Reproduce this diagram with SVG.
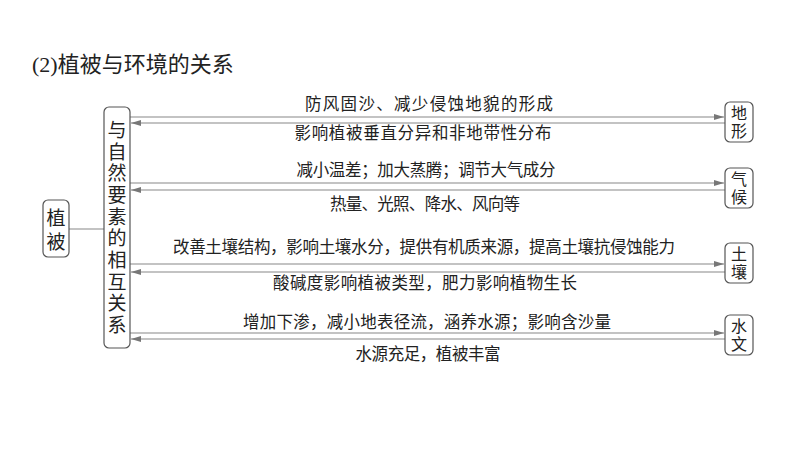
<svg xmlns="http://www.w3.org/2000/svg" width="800" height="450" viewBox="0 0 800 450">
<style>
text{font-family:"Liberation Serif","Noto Sans CJK SC",serif;fill:#222;}
.box{fill:#fff;stroke:#555;stroke-width:1.2;}
.ln{stroke:#888;stroke-width:1.2;fill:none;}
.lab{font-size:16.5px;text-anchor:middle;}
.nd{font-size:19px;text-anchor:middle;}
.rn{font-size:16px;text-anchor:middle;}
</style>
<defs>
<marker id="ah" viewBox="0 0 10 6" refX="10" refY="3" markerWidth="10" markerHeight="6" markerUnits="userSpaceOnUse" orient="auto">
<path d="M0,0 L10,3 L0,6 Z" fill="#777"/>
</marker>
</defs>
<rect width="800" height="450" fill="#fff"/>
<text x="32" y="72" font-size="22">(2)植被与环境的关系</text>
<g id="connectors">
<line class="ln" x1="69" y1="229" x2="104" y2="229"/>
<line class="ln" x1="130" y1="117" x2="724" y2="117" marker-end="url(#ah)"/>
<line class="ln" x1="725" y1="123" x2="131" y2="123" marker-end="url(#ah)"/>
<line class="ln" x1="130" y1="183" x2="724" y2="183" marker-end="url(#ah)"/>
<line class="ln" x1="725" y1="190" x2="131" y2="190" marker-end="url(#ah)"/>
<line class="ln" x1="130" y1="264" x2="724" y2="264" marker-end="url(#ah)"/>
<line class="ln" x1="725" y1="272" x2="131" y2="272" marker-end="url(#ah)"/>
<line class="ln" x1="130" y1="333" x2="724" y2="333" marker-end="url(#ah)"/>
<line class="ln" x1="725" y1="339" x2="131" y2="339" marker-end="url(#ah)"/>
<text class="lab" x="429" y="110" textLength="248">防风固沙、减少侵蚀地貌的形成</text>
<text class="lab" x="423" y="139" textLength="257">影响植被垂直分异和非地带性分布</text>
<text class="lab" x="426" y="176" textLength="259">减小温差；加大蒸腾；调节大气成分</text>
<text class="lab" x="425" y="210" textLength="190">热量、光照、降水、风向等</text>
<text class="lab" x="424" y="253" textLength="502">改善土壤结构，影响土壤水分，提供有机质来源，提高土壤抗侵蚀能力</text>
<text class="lab" x="425" y="289" textLength="304">酸碱度影响植被类型，肥力影响植物生长</text>
<text class="lab" x="427" y="328" textLength="368">增加下渗，减小地表径流，涵养水源；影响含沙量</text>
<text class="lab" x="428" y="360" textLength="145">水源充足，植被丰富</text>
</g>
<g id="node-zhibei">
<rect class="box" x="43" y="200" width="26" height="57" rx="5"/>
<text class="nd" x="56" y="225">植</text>
<text class="nd" x="56" y="249">被</text>
</g>
<g id="node-relation">
<rect class="box" x="104" y="107" width="26" height="241" rx="5"/>
<text class="nd" x="117" y="137">与</text>
<text class="nd" x="117" y="159">自</text>
<text class="nd" x="117" y="180">然</text>
<text class="nd" x="117" y="202">要</text>
<text class="nd" x="117" y="224">素</text>
<text class="nd" x="117" y="245">的</text>
<text class="nd" x="117" y="267">相</text>
<text class="nd" x="117" y="289">互</text>
<text class="nd" x="117" y="310">关</text>
<text class="nd" x="117" y="332">系</text>
</g>
<g id="node-dixing">
<rect class="box" x="725" y="102" width="28" height="40" rx="5"/>
<text class="rn" x="739" y="119">地</text>
<text class="rn" x="739" y="137">形</text>
</g>
<g id="node-qihou">
<rect class="box" x="725" y="168" width="28" height="40" rx="5"/>
<text class="rn" x="739" y="185">气</text>
<text class="rn" x="739" y="203">候</text>
</g>
<g id="node-turang">
<rect class="box" x="725" y="243" width="28" height="40" rx="5"/>
<text class="rn" x="739" y="260">土</text>
<text class="rn" x="739" y="278">壤</text>
</g>
<g id="node-shuiwen">
<rect class="box" x="725" y="315" width="28" height="40" rx="5"/>
<text class="rn" x="739" y="332">水</text>
<text class="rn" x="739" y="350">文</text>
</g>
</svg>
